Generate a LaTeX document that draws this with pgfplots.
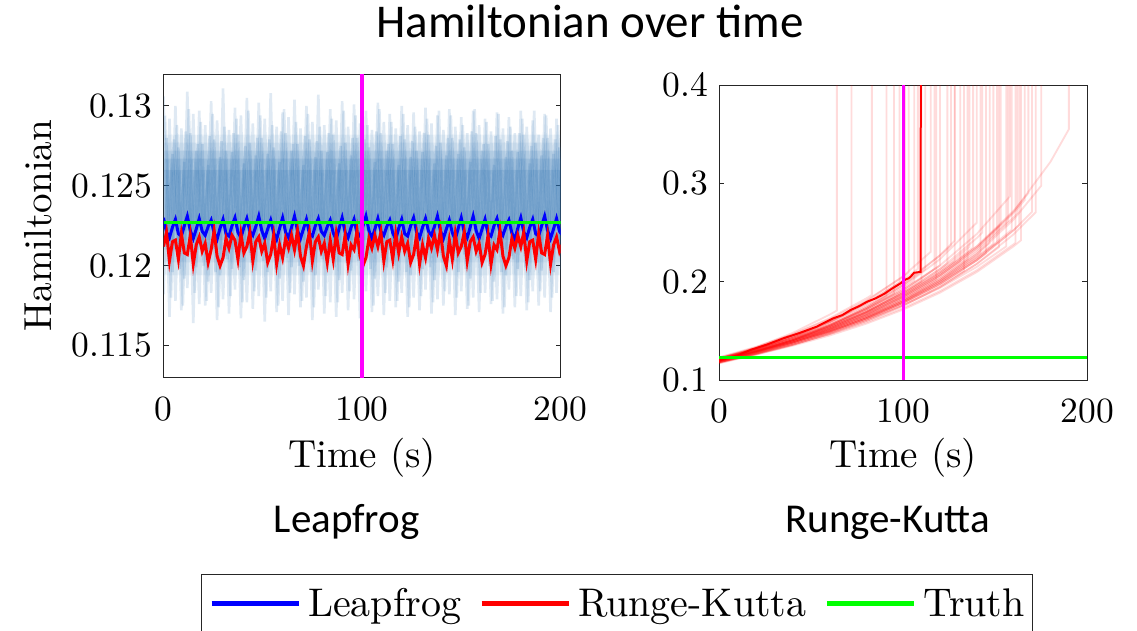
\documentclass[border=0pt]{standalone}
\usepackage{pgfplots}
\pgfplotsset{compat=1.18}
\usepackage{pgfplotstable}
\usepackage{fontspec}
\setmainfont{lmroman10-regular.otf}
\newfontfamily\carlito{Carlito}

\definecolor{axgray}{RGB}{38,38,38}
\definecolor{ensblue}{RGB}{40,110,175}
\definecolor{lfblue}{RGB}{0,0,255}
\definecolor{rkred}{RGB}{255,0,0}
\definecolor{truthgreen}{RGB}{0,255,0}
\definecolor{marker}{RGB}{255,0,255}

\newcommand\ticksize{\fontsize{35.5}{40}\selectfont}
\newcommand\labsize{\fontsize{39.1}{44}\selectfont}

% Leapfrog / Runge-Kutta Hamiltonian traces (left panel)
\pgfplotstableread{
t lf rk
0 0.12300 0.1212
1.5 0.12210 0.1221
3 0.12175 0.1203
4.5 0.12240 0.1215
6 0.12290 0.1216
7.5 0.12200 0.1204
9 0.12185 0.1220
10.5 0.12250 0.1208
12 0.12310 0.1207
13.5 0.12220 0.1219
15 0.12170 0.1201
16.5 0.12230 0.1213
18 0.12295 0.1218
19.5 0.12215 0.1209
21 0.12190 0.1214
22.5 0.12245 0.1202
24 0.12285 0.1210
25.5 0.12205 0.1222
27 0.12165 0.1206
28.5 0.12235 0.1200
30 0.12290 0.1205
31.5 0.12200 0.1217
33 0.12185 0.1211
34.5 0.12250 0.1219
36 0.12300 0.1216
37.5 0.12210 0.1204
39 0.12175 0.1220
40.5 0.12240 0.1208
42 0.12295 0.1212
43.5 0.12215 0.1221
45 0.12190 0.1203
46.5 0.12245 0.1215
48 0.12310 0.1218
49.5 0.12220 0.1209
51 0.12170 0.1214
52.5 0.12230 0.1202
54 0.12285 0.1207
55.5 0.12205 0.1219
57 0.12165 0.1201
58.5 0.12235 0.1213
60 0.12300 0.1205
61.5 0.12210 0.1217
63 0.12175 0.1211
64.5 0.12240 0.1219
66 0.12310 0.1210
67.5 0.12220 0.1222
69 0.12170 0.1206
70.5 0.12230 0.1200
72 0.12290 0.1212
73.5 0.12200 0.1221
75 0.12185 0.1203
76.5 0.12250 0.1215
78 0.12295 0.1218
79.5 0.12215 0.1209
81 0.12190 0.1214
82.5 0.12245 0.1202
84 0.12285 0.1216
85.5 0.12205 0.1204
87 0.12165 0.1220
88.5 0.12235 0.1208
90 0.12300 0.1207
91.5 0.12210 0.1219
93 0.12175 0.1201
94.5 0.12240 0.1213
96 0.12290 0.1210
97.5 0.12200 0.1222
99 0.12185 0.1206
100.5 0.12250 0.1200
102 0.12310 0.1205
103.5 0.12220 0.1217
105 0.12170 0.1211
106.5 0.12230 0.1219
108 0.12295 0.1212
109.5 0.12215 0.1221
111 0.12190 0.1203
112.5 0.12245 0.1215
114 0.12285 0.1216
115.5 0.12205 0.1204
117 0.12165 0.1220
118.5 0.12235 0.1208
120 0.12290 0.1218
121.5 0.12200 0.1209
123 0.12185 0.1214
124.5 0.12250 0.1202
126 0.12300 0.1207
127.5 0.12210 0.1219
129 0.12175 0.1201
130.5 0.12240 0.1213
132 0.12295 0.1205
133.5 0.12215 0.1217
135 0.12190 0.1211
136.5 0.12245 0.1219
138 0.12310 0.1210
139.5 0.12220 0.1222
141 0.12170 0.1206
142.5 0.12230 0.1200
144 0.12285 0.1216
145.5 0.12205 0.1204
147 0.12165 0.1220
148.5 0.12235 0.1208
150 0.12300 0.1212
151.5 0.12210 0.1221
153 0.12175 0.1203
154.5 0.12240 0.1215
156 0.12310 0.1218
157.5 0.12220 0.1209
159 0.12170 0.1214
160.5 0.12230 0.1202
162 0.12290 0.1207
163.5 0.12200 0.1219
165 0.12185 0.1201
166.5 0.12250 0.1213
168 0.12295 0.1210
169.5 0.12215 0.1222
171 0.12190 0.1206
172.5 0.12245 0.1200
174 0.12285 0.1205
175.5 0.12205 0.1217
177 0.12165 0.1211
178.5 0.12235 0.1219
180 0.12300 0.1212
181.5 0.12210 0.1221
183 0.12175 0.1203
184.5 0.12240 0.1215
186 0.12290 0.1216
187.5 0.12200 0.1204
189 0.12185 0.1220
190.5 0.12250 0.1208
192 0.12310 0.1207
193.5 0.12220 0.1219
195 0.12170 0.1201
196.5 0.12230 0.1213
198 0.12295 0.1218
199.5 0.12215 0.1209
201 0.12190 0.1214
202.5 0.12245 0.1202
}\mainlines

% individual Leapfrog ensemble members (left panel)
\pgfplotstableread{
t u v w z1 z2 z3 z4 z5 z6
0 1.5 0.75 2.25 0.1306 0.1182 0.1280 0.1212 0.1294 0.1203
3 4.5 3.75 5.25 0.1168 0.1292 0.1196 0.1270 0.1180 0.1279
6 7.5 6.75 8.25 0.1300 0.1178 0.1274 0.1207 0.1288 0.1198
9 10.5 9.75 11.25 0.1172 0.1286 0.1192 0.1265 0.1175 0.1284
12 13.5 12.75 14.25 0.1309 0.1186 0.1283 0.1214 0.1298 0.1205
15 16.5 15.75 17.25 0.1164 0.1295 0.1199 0.1272 0.1183 0.1276
18 19.5 18.75 20.25 0.1297 0.1176 0.1276 0.1209 0.1290 0.1200
21 22.5 21.75 23.25 0.1175 0.1288 0.1190 0.1263 0.1178 0.1281
24 25.5 24.75 26.25 0.1303 0.1183 0.1279 0.1211 0.1295 0.1196
27 28.5 27.75 29.25 0.1166 0.1291 0.1194 0.1268 0.1174 0.1278
30 31.5 30.75 32.25 0.1311 0.1179 0.1272 0.1206 0.1287 0.1204
33 34.5 33.75 35.25 0.1170 0.1285 0.1198 0.1271 0.1181 0.1283
36 37.5 36.75 38.25 0.1299 0.1185 0.1282 0.1213 0.1292 0.1199
39 40.5 39.75 41.25 0.1167 0.1294 0.1191 0.1264 0.1177 0.1275
42 43.5 42.75 44.25 0.1305 0.1177 0.1277 0.1208 0.1297 0.1202
45 46.5 45.75 47.25 0.1173 0.1289 0.1197 0.1269 0.1184 0.1280
48 49.5 48.75 50.25 0.1302 0.1181 0.1280 0.1212 0.1294 0.1203
51 52.5 51.75 53.25 0.1165 0.1292 0.1196 0.1270 0.1180 0.1279
54 55.5 54.75 56.25 0.1308 0.1184 0.1274 0.1207 0.1288 0.1198
57 58.5 57.75 59.25 0.1171 0.1287 0.1192 0.1265 0.1175 0.1284
60 61.5 60.75 62.25 0.1296 0.1178 0.1283 0.1214 0.1298 0.1205
63 64.5 63.75 65.25 0.1169 0.1293 0.1199 0.1272 0.1183 0.1276
66 67.5 66.75 68.25 0.1304 0.1182 0.1276 0.1209 0.1290 0.1200
69 70.5 69.75 71.25 0.1174 0.1286 0.1190 0.1263 0.1178 0.1281
72 73.5 72.75 74.25 0.1300 0.1180 0.1279 0.1211 0.1295 0.1196
75 76.5 75.75 77.25 0.1166 0.1290 0.1194 0.1268 0.1174 0.1278
78 79.5 78.75 80.25 0.1307 0.1185 0.1272 0.1206 0.1287 0.1204
81 82.5 81.75 83.25 0.1170 0.1288 0.1198 0.1271 0.1181 0.1283
84 85.5 84.75 86.25 0.1298 0.1177 0.1282 0.1213 0.1292 0.1199
87 88.5 87.75 89.25 0.1168 0.1291 0.1191 0.1264 0.1177 0.1275
90 91.5 90.75 92.25 0.1303 0.1183 0.1277 0.1208 0.1297 0.1202
93 94.5 93.75 95.25 0.1172 0.1287 0.1197 0.1269 0.1184 0.1280
96 97.5 96.75 98.25 0.1301 0.1179 0.1280 0.1212 0.1294 0.1203
99 100.5 99.75 101.25 0.1167 0.1289 0.1196 0.1270 0.1180 0.1279
102 103.5 102.75 104.25 0.1297 0.1184 0.1274 0.1207 0.1288 0.1198
105 106.5 105.75 107.25 0.1171 0.1285 0.1192 0.1265 0.1175 0.1284
108 109.5 108.75 110.25 0.1302 0.1181 0.1283 0.1214 0.1298 0.1205
111 112.5 111.75 113.25 0.1169 0.1290 0.1199 0.1272 0.1183 0.1276
114 115.5 114.75 116.25 0.1295 0.1178 0.1276 0.1209 0.1290 0.1200
117 118.5 117.75 119.25 0.1174 0.1286 0.1190 0.1263 0.1178 0.1281
120 121.5 120.75 122.25 0.1300 0.1183 0.1279 0.1211 0.1295 0.1196
123 124.5 123.75 125.25 0.1168 0.1288 0.1194 0.1268 0.1174 0.1278
126 127.5 126.75 128.25 0.1296 0.1180 0.1272 0.1206 0.1287 0.1204
129 130.5 129.75 131.25 0.1172 0.1284 0.1198 0.1271 0.1181 0.1283
132 133.5 132.75 134.25 0.1299 0.1185 0.1282 0.1213 0.1292 0.1199
135 136.5 135.75 137.25 0.1170 0.1289 0.1191 0.1264 0.1177 0.1275
138 139.5 138.75 140.25 0.1294 0.1179 0.1277 0.1208 0.1297 0.1202
141 142.5 141.75 143.25 0.1175 0.1285 0.1197 0.1269 0.1184 0.1280
144 145.5 144.75 146.25 0.1298 0.1182 0.1280 0.1212 0.1294 0.1203
147 148.5 147.75 149.25 0.1169 0.1287 0.1196 0.1270 0.1180 0.1279
150 151.5 150.75 152.25 0.1293 0.1184 0.1274 0.1207 0.1288 0.1198
153 154.5 153.75 155.25 0.1173 0.1283 0.1192 0.1265 0.1175 0.1284
156 157.5 156.75 158.25 0.1297 0.1180 0.1283 0.1214 0.1298 0.1205
159 160.5 159.75 161.25 0.1171 0.1288 0.1199 0.1272 0.1183 0.1276
162 163.5 162.75 164.25 0.1292 0.1183 0.1276 0.1209 0.1290 0.1200
165 166.5 165.75 167.25 0.1176 0.1284 0.1190 0.1263 0.1178 0.1281
168 169.5 168.75 170.25 0.1296 0.1179 0.1279 0.1211 0.1295 0.1196
171 172.5 171.75 173.25 0.1170 0.1286 0.1194 0.1268 0.1174 0.1278
174 175.5 174.75 176.25 0.1293 0.1185 0.1272 0.1206 0.1287 0.1204
177 178.5 177.75 179.25 0.1174 0.1283 0.1198 0.1271 0.1181 0.1283
180 181.5 180.75 182.25 0.1297 0.1181 0.1282 0.1213 0.1292 0.1199
183 184.5 183.75 185.25 0.1172 0.1287 0.1191 0.1264 0.1177 0.1275
186 187.5 186.75 188.25 0.1291 0.1184 0.1277 0.1208 0.1297 0.1202
189 190.5 189.75 191.25 0.1175 0.1282 0.1197 0.1269 0.1184 0.1280
192 193.5 192.75 194.25 0.1295 0.1180 0.1280 0.1212 0.1294 0.1203
195 196.5 195.75 197.25 0.1171 0.1286 0.1196 0.1270 0.1180 0.1279
198 199.5 198.75 200.25 0.1292 0.1183 0.1274 0.1207 0.1288 0.1198
201 202.5 201.75 203.25 0.1174 0.1284 0.1192 0.1265 0.1175 0.1284
}\members

\pgfplotsset{
  panel/.style={
    scale only axis,
    anchor=south west,
    xmin=0, xmax=200,
    xtick={0,100,200}, xticklabels={0,100,200},
    tick align=inside,
    major tick length=5pt,
    minor tick num=0,
    axis line style={axgray, line width=0.9pt},
    every tick/.style={axgray, line width=0.9pt},
    /pgf/number format/assume math mode=true,
    xticklabel style={font=\ticksize, inner sep=0pt, anchor=north, yshift=-19pt},
    yticklabel style={font=\ticksize, inner sep=0pt, anchor=east, xshift=-11pt},
    xlabel={Time (s)},
    xlabel style={font=\labsize, at={(axis description cs:0.5,-0.2949)}, anchor=base},
    scaled x ticks=false, scaled y ticks=false,
  },
  band/.style={draw=none, fill=ensblue, fill opacity=#1, forget plot},
  zig/.style={ensblue, opacity=0.15, line width=2.6pt, forget plot},
  ens/.style={rkred, opacity=0.14, line width=1.8pt, forget plot},
}

\begin{document}
\begin{tikzpicture}[x=1pt, y=1pt]
\path[use as bounding box] (0,0) rectangle (1137,630);

% ---------------- Leapfrog panel ----------------
\begin{axis}[panel,
  at={(163.5pt,252.5pt)}, width=397pt, height=303.5pt,
  ymin=0.113, ymax=0.132,
  ytick={0.115,0.12,0.125,0.13}, yticklabels={0.115,0.12,0.125,0.13},
  ylabel={Hamiltonian},
  ylabel style={font=\labsize, at={(axis description cs:-0.316,0.5)}, anchor=center},
  legend columns=3,
  legend image code/.code={\draw[#1, line width=5pt] (0pt,0pt) -- (87pt,0pt);},
  legend style={at={(axis description cs:0.0937,-0.6474)}, anchor=north west,
    draw=axgray, line width=0.9pt, font=\fontsize{40}{48}\selectfont,
    inner xsep=8pt, inner ysep=14pt,
    nodes={inner sep=0pt},
    /tikz/every odd column/.append style={column sep=7pt},
    /tikz/every even column/.append style={column sep=18pt}},
]
% dense core of the ensemble
\addplot[band=0.07] coordinates {(0,0.1194) (0,0.1282) (200,0.1282) (200,0.1194) (0,0.1194)};
\addplot[band=0.08] coordinates {(0,0.1202) (0,0.1277) (200,0.1277) (200,0.1202) (0,0.1202)};
\addplot[band=0.12] coordinates {(0,0.1210) (0,0.1272) (200,0.1272) (200,0.1210) (0,0.1210)};
\addplot[band=0.14] coordinates {(0,0.1216) (0,0.1267) (200,0.1267) (200,0.1216) (0,0.1216)};
\addplot[band=0.15] coordinates {(0,0.1222) (0,0.1260) (200,0.1260) (200,0.1222) (0,0.1222)};
% ensemble members
\addplot[zig] table[x=t, y=z1] {\members};
\addplot[zig] table[x=t, y=z2] {\members};
\addplot[zig] table[x=u, y=z3] {\members};
\addplot[zig] table[x=u, y=z4] {\members};
\addplot[zig] table[x=v, y=z5] {\members};
\addplot[zig] table[x=w, y=z6] {\members};
% reference runs
\addplot[lfblue, line width=3pt] table[x=t, y=lf] {\mainlines};
\addlegendentry{Leapfrog}
\addplot[rkred, line width=3pt] table[x=t, y=rk] {\mainlines};
\addlegendentry{Runge-Kutta}
\addplot[truthgreen, line width=2.5pt] coordinates {(0,0.1227) (200,0.1227)};
\addlegendentry{Truth}
\addplot[marker, line width=3.3pt, forget plot] coordinates {(100,0.113) (100,0.132)};
\end{axis}

% ---------------- Runge-Kutta panel ----------------
\begin{axis}[panel,
  at={(719pt,250pt)}, width=368.3pt, height=295pt,
  ymin=0.1, ymax=0.4,
  ytick={0.1,0.2,0.3,0.4}, yticklabels={0.1,0.2,0.3,0.4},
]
\addplot[ens] coordinates {(0,0.1210)(20,0.1331)(40,0.1479)(60,0.1664)(64,0.1706)(64,0.5)};
\addplot[ens] coordinates {(0,0.1190)(20,0.1298)(40,0.1428)(60,0.1587)(72,0.1700)(72,0.5)};
\addplot[ens] coordinates {(0,0.1220)(20,0.1331)(40,0.1464)(60,0.1627)(80,0.1830)(83,0.1865)(83,0.5)};
\addplot[ens] coordinates {(0,0.1180)(20,0.1283)(40,0.1405)(60,0.1553)(80,0.1735)(91,0.1855)(91,0.5)};
\addplot[ens] coordinates {(0,0.1190)(20,0.1289)(40,0.1406)(60,0.1547)(80,0.1719)(95,0.1875)(95,0.5)};
\addplot[ens] coordinates {(0,0.1210)(20,0.1315)(40,0.1441)(60,0.1592)(80,0.1779)(98,0.1990)(98,0.5)};
\addplot[ens] coordinates {(0,0.1210)(20,0.1305)(40,0.1416)(60,0.1548)(80,0.1706)(100,0.1901)(101,0.1912)(101,0.5)};
\addplot[ens] coordinates {(0,0.1230)(20,0.1337)(40,0.1464)(60,0.1618)(80,0.1809)(100,0.2050)(103,0.2092)(103,0.5)};
\addplot[ens] coordinates {(0,0.1190)(20,0.1289)(40,0.1406)(60,0.1547)(80,0.1719)(100,0.1934)(106,0.2009)(106,0.5)};
\addplot[ens] coordinates {(0,0.1210)(20,0.1315)(40,0.1441)(60,0.1592)(80,0.1779)(100,0.2017)(108,0.2130)(108,0.5)};
\addplot[ens] coordinates {(0,0.1200)(20,0.1294)(40,0.1404)(60,0.1535)(80,0.1692)(100,0.1886)(110,0.2000)(110,0.5)};
\addplot[ens] coordinates {(0,0.1210)(20,0.1311)(40,0.1430)(60,0.1573)(80,0.1748)(100,0.1966)(112,0.2126)(112,0.5)};
\addplot[ens] coordinates {(0,0.1200)(20,0.1309)(40,0.1440)(60,0.1600)(80,0.1800)(100,0.2057)(115,0.2304)(115,0.5)};
\addplot[ens] coordinates {(0,0.1170)(20,0.1267)(40,0.1383)(60,0.1521)(80,0.1690)(100,0.1901)(117,0.2127)(117,0.5)};
\addplot[ens] coordinates {(0,0.1200)(20,0.1289)(40,0.1392)(60,0.1513)(80,0.1657)(100,0.1832)(118,0.2023)(118,0.5)};
\addplot[ens] coordinates {(0,0.1220)(20,0.1316)(40,0.1428)(60,0.1561)(80,0.1721)(100,0.1917)(120,0.2165)(120,0.5)};
\addplot[ens] coordinates {(0,0.1200)(20,0.1294)(40,0.1404)(60,0.1535)(80,0.1692)(100,0.1886)(120,0.2129)(124,0.2185)(124,0.5)};
\addplot[ens] coordinates {(0,0.1220)(20,0.1322)(40,0.1442)(60,0.1586)(80,0.1762)(100,0.1983)(120,0.2266)(126,0.2367)(126,0.5)};
\addplot[ens] coordinates {(0,0.1180)(20,0.1273)(40,0.1381)(60,0.1509)(80,0.1664)(100,0.1854)(120,0.2094)(128,0.2207)(128,0.5)};
\addplot[ens] coordinates {(0,0.1180)(20,0.1283)(40,0.1405)(60,0.1553)(80,0.1735)(100,0.1967)(120,0.2269)(128,0.2418)(128,0.5)};
\addplot[ens] coordinates {(0,0.1210)(20,0.1300)(40,0.1404)(60,0.1526)(80,0.1671)(100,0.1847)(120,0.2064)(131,0.2207)(131,0.5)};
\addplot[ens] coordinates {(0,0.1190)(20,0.1274)(40,0.1370)(60,0.1481)(80,0.1613)(100,0.1771)(120,0.1962)(133,0.2110)(133,0.5)};
\addplot[ens] coordinates {(0,0.1190)(20,0.1278)(40,0.1380)(60,0.1500)(80,0.1643)(100,0.1816)(120,0.2030)(135,0.2226)(135,0.5)};
\addplot[ens] coordinates {(0,0.1190)(20,0.1283)(40,0.1393)(60,0.1522)(80,0.1678)(100,0.1870)(120,0.2111)(136,0.2354)(136,0.5)};
\addplot[ens] coordinates {(0,0.1230)(20,0.1321)(40,0.1427)(60,0.1551)(80,0.1699)(100,0.1877)(120,0.2098)(138,0.2347)(138,0.5)};
\addplot[ens] coordinates {(0,0.1200)(20,0.1300)(40,0.1418)(60,0.1560)(80,0.1733)(100,0.1950)(120,0.2229)(140,0.2600)(140,0.5)};
\addplot[ens] coordinates {(0,0.1170)(20,0.1257)(40,0.1357)(60,0.1475)(80,0.1616)(100,0.1786)(120,0.1996)(140,0.2262)(142,0.2293)(142,0.5)};
\addplot[ens] coordinates {(0,0.1200)(20,0.1294)(40,0.1404)(60,0.1535)(80,0.1692)(100,0.1886)(120,0.2129)(140,0.2444)(143,0.2500)(143,0.5)};
\addplot[ens] coordinates {(0,0.1200)(20,0.1284)(40,0.1381)(60,0.1494)(80,0.1627)(100,0.1785)(120,0.1978)(140,0.2218)(145,0.2288)(145,0.5)};
\addplot[ens] coordinates {(0,0.1180)(20,0.1267)(40,0.1369)(60,0.1488)(80,0.1630)(100,0.1801)(120,0.2013)(140,0.2281)(147,0.2393)(147,0.5)};
\addplot[ens] coordinates {(0,0.1220)(20,0.1306)(40,0.1404)(60,0.1519)(80,0.1654)(100,0.1815)(120,0.2011)(140,0.2255)(149,0.2385)(149,0.5)};
\addplot[ens] coordinates {(0,0.1210)(20,0.1295)(40,0.1393)(60,0.1506)(80,0.1640)(100,0.1800)(120,0.1995)(140,0.2237)(151,0.2396)(151,0.5)};
\addplot[ens] coordinates {(0,0.1180)(20,0.1263)(40,0.1358)(60,0.1469)(80,0.1600)(100,0.1756)(120,0.1945)(140,0.2181)(152,0.2352)(152,0.5)};
\addplot[ens] coordinates {(0,0.1220)(20,0.1310)(40,0.1415)(60,0.1538)(80,0.1685)(100,0.1862)(120,0.2081)(140,0.2359)(153,0.2582)(153,0.5)};
\addplot[ens] coordinates {(0,0.1210)(20,0.1290)(40,0.1383)(60,0.1489)(80,0.1613)(100,0.1760)(120,0.1936)(140,0.2151)(156,0.2359)(156,0.5)};
\addplot[ens] coordinates {(0,0.1200)(20,0.1289)(40,0.1392)(60,0.1513)(80,0.1657)(100,0.1832)(120,0.2047)(140,0.2320)(157,0.2617)(157,0.5)};
\addplot[ens] coordinates {(0,0.1220)(20,0.1316)(40,0.1428)(60,0.1561)(80,0.1721)(100,0.1917)(120,0.2165)(140,0.2485)(158,0.2868)(158,0.5)};
\addplot[ens] coordinates {(0,0.1210)(20,0.1295)(40,0.1393)(60,0.1506)(80,0.1640)(100,0.1800)(120,0.1995)(140,0.2237)(159,0.2528)(159,0.5)};
\addplot[ens] coordinates {(0,0.1190)(20,0.1269)(40,0.1360)(60,0.1465)(80,0.1587)(100,0.1731)(120,0.1904)(140,0.2116)(160,0.2380)(161,0.2395)(161,0.5)};
\addplot[ens] coordinates {(0,0.1190)(20,0.1278)(40,0.1380)(60,0.1500)(80,0.1643)(100,0.1816)(120,0.2030)(140,0.2301)(160,0.2655)(162,0.2696)(162,0.5)};
\addplot[ens] coordinates {(0,0.1200)(20,0.1284)(40,0.1381)(60,0.1494)(80,0.1627)(100,0.1785)(120,0.1978)(140,0.2218)(160,0.2524)(163,0.2577)(163,0.5)};
\addplot[ens] coordinates {(0,0.1180)(20,0.1259)(40,0.1349)(60,0.1452)(80,0.1573)(100,0.1716)(120,0.1888)(140,0.2098)(160,0.2360)(164,0.2421)(164,0.5)};
\addplot[ens] coordinates {(0,0.1210)(20,0.1300)(40,0.1404)(60,0.1526)(80,0.1671)(100,0.1847)(120,0.2064)(140,0.2339)(160,0.2699)(166,0.2830)(166,0.5)};
\addplot[ens] coordinates {(0,0.1220)(20,0.1310)(40,0.1415)(60,0.1538)(80,0.1685)(100,0.1862)(120,0.2081)(140,0.2359)(160,0.2722)(168,0.2900)(168,0.5)};
\addplot[ens] coordinates {(0,0.1200)(20,0.1284)(40,0.1381)(60,0.1494)(80,0.1627)(100,0.1785)(120,0.1978)(140,0.2218)(160,0.2524)(170,0.2711)(170,0.5)};
\addplot[ens] coordinates {(0,0.1180)(20,0.1263)(40,0.1358)(60,0.1469)(80,0.1600)(100,0.1756)(120,0.1945)(140,0.2181)(160,0.2482)(172,0.2706)(172,0.5)};
\addplot[ens] coordinates {(0,0.1180)(20,0.1267)(40,0.1369)(60,0.1488)(80,0.1630)(100,0.1801)(120,0.2013)(140,0.2281)(160,0.2632)(175,0.2976)(175,0.5)};
\addplot[ens] coordinates {(0,0.1200)(20,0.1290)(40,0.1394)(60,0.1517)(80,0.1664)(100,0.1842)(120,0.2062)(140,0.2343)(160,0.2712)(180,0.3219)(190,0.3551)(190,0.5)};
% highlighted run
\addplot[rkred, line width=2pt] coordinates {(0,0.1198)(10,0.1250)(17,0.1305)(26,0.1360)(35,0.1424)(44,0.1480)(53,0.1542)(58,0.1590)(62,0.1627)(67,0.1660)(71.5,0.1712)(76,0.1750)(80.5,0.1797)(85,0.1830)(89.6,0.1875)(94,0.1930)(98.6,0.1983)(100.8,0.2017)(103,0.2035)(104,0.2050)(105.9,0.2090)(109.5,0.2100)(109.6,0.5)};
\addplot[truthgreen, line width=3pt] coordinates {(0,0.1227) (200,0.1227)};
\addplot[marker, line width=3.3pt] coordinates {(100,0.1) (100,0.4)};
\end{axis}

% titles
\node[anchor=base, font=\carlito\fontsize{47}{56}\selectfont] at (590,592.5) {Hamiltonian over time};
\node[anchor=base, font=\carlito\fontsize{41}{49}\selectfont] at (346.7,98) {Leapfrog};
\node[anchor=base, font=\carlito\fontsize{41}{49}\selectfont] at (887.5,98) {Runge-Kutta};
\end{tikzpicture}
\end{document}
